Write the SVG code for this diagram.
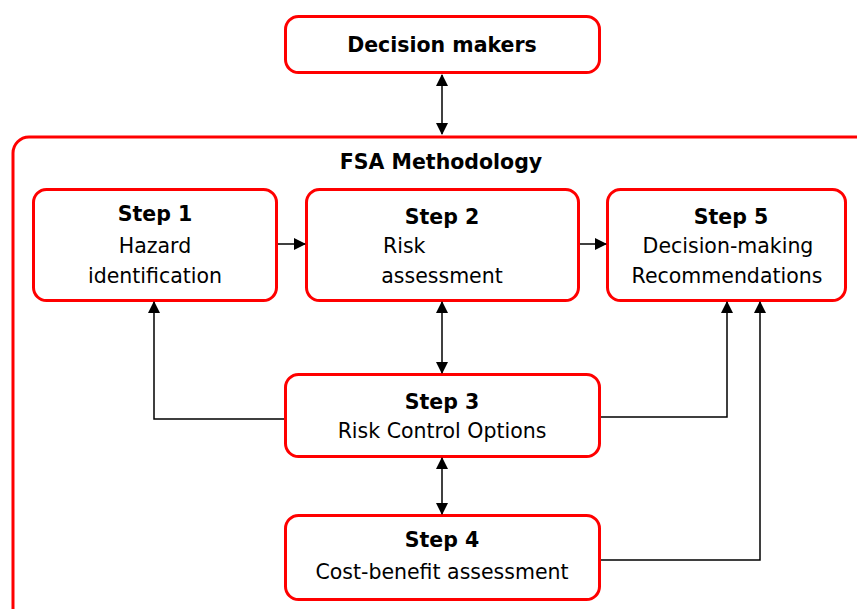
<svg xmlns="http://www.w3.org/2000/svg" width="857" height="609" viewBox="0 0 857 609">
<style>
.box{fill:#fff;stroke:#ff0000;stroke-width:3}
.t{font-family:"DejaVu Sans",Verdana,sans-serif;font-size:20.5px;fill:#000;text-anchor:middle}
.b{font-weight:bold}
.c{fill:none;stroke:#000;stroke-width:1.5}
</style>
<defs>
<marker id="ah" markerWidth="12" markerHeight="12" refX="11" refY="6" orient="auto-start-reverse" markerUnits="userSpaceOnUse">
<path d="M0,0 L12,6 L0,12 Z" fill="#000"/>
</marker>
</defs>
<rect width="857" height="609" fill="#fff"/>
<g id="fsa">
<rect class="box" x="13" y="137" width="870" height="490" rx="16"/>
<text class="t b" x="441" y="169">FSA Methodology</text>
</g>
<g id="decision-makers">
<rect class="box" x="285.5" y="16.5" width="314" height="56" rx="13"/>
<text class="t b" x="442" y="52">Decision makers</text>
</g>
<g id="step1">
<rect class="box" x="33.5" y="189.5" width="243" height="111" rx="13"/>
<text class="t b" x="155" y="221">Step 1</text>
<text class="t" x="155" y="253">Hazard</text>
<text class="t" x="155" y="283">identification</text>
</g>
<g id="step2">
<rect class="box" x="306.5" y="189.5" width="272" height="111" rx="13"/>
<text class="t b" x="442" y="224">Step 2</text>
<text class="t" x="383" y="253" style="text-anchor:start">Risk</text>
<text class="t" x="442" y="283">assessment</text>
</g>
<g id="step5">
<rect class="box" x="607.5" y="189.5" width="238" height="111" rx="13"/>
<text class="t b" x="731" y="224">Step 5</text>
<text class="t" x="728" y="253">Decision-making</text>
<text class="t" x="727" y="283">Recommendations</text>
</g>
<g id="step3">
<rect class="box" x="285.5" y="374.5" width="314" height="82" rx="13"/>
<text class="t b" x="442" y="409">Step 3</text>
<text class="t" x="442" y="438">Risk Control Options</text>
</g>
<g id="step4">
<rect class="box" x="285.5" y="515.5" width="314" height="84" rx="13"/>
<text class="t b" x="442" y="547">Step 4</text>
<text class="t" x="442" y="579">Cost-benefit assessment</text>
</g>
<g id="connectors">
<path class="c" d="M442,75 L442,134" marker-start="url(#ah)" marker-end="url(#ah)"/>
<path class="c" d="M278,244 L305,244" marker-end="url(#ah)"/>
<path class="c" d="M580,244 L606,244" marker-end="url(#ah)"/>
<path class="c" d="M442,302 L442,373" marker-start="url(#ah)" marker-end="url(#ah)"/>
<path class="c" d="M442,458 L442,514" marker-start="url(#ah)" marker-end="url(#ah)"/>
<path class="c" d="M284,419 L154,419 L154,302" marker-end="url(#ah)"/>
<path class="c" d="M601,417 L727,417 L727,302" marker-end="url(#ah)"/>
<path class="c" d="M601,560 L760,560 L760,302" marker-end="url(#ah)"/>
</g>
</svg>
